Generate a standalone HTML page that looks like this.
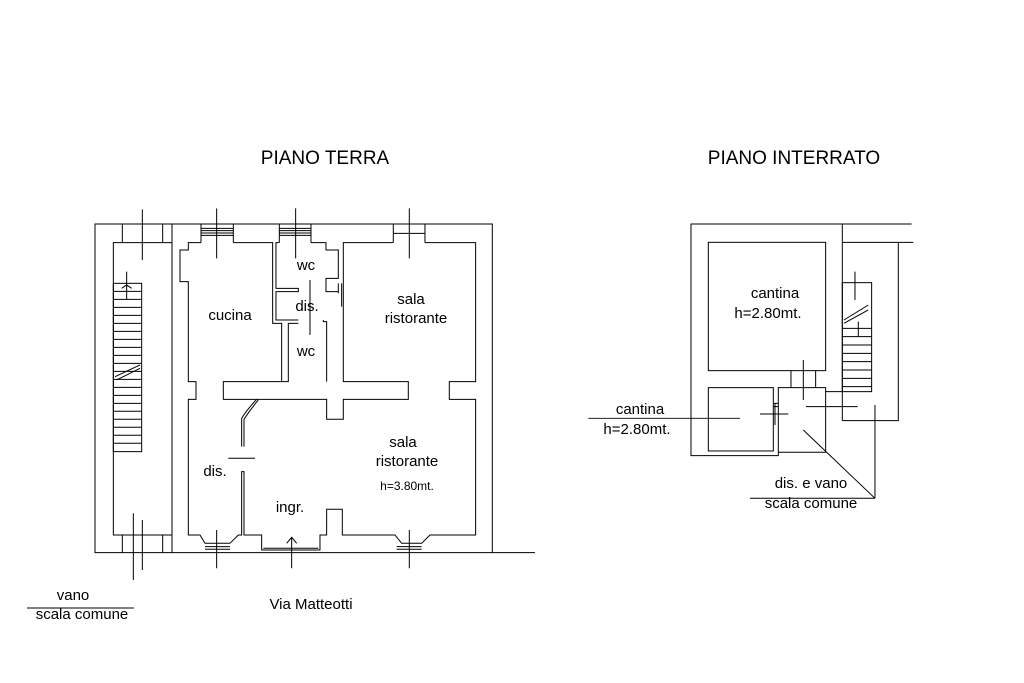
<!DOCTYPE html>
<html><head><meta charset="utf-8"><style>
html,body{margin:0;padding:0;background:#fff;width:1024px;height:683px;overflow:hidden}
text{font-family:"Liberation Sans",Arial,sans-serif;fill:#000}
</style></head><body>
<svg width="1024" height="683" viewBox="0 0 1024 683" xmlns="http://www.w3.org/2000/svg">
<text x="325" y="164" font-size="19" text-anchor="middle">PIANO TERRA</text>
<text x="794" y="164" font-size="19" text-anchor="middle">PIANO INTERRATO</text>

<g transform="translate(90,200) scale(0.3333)" fill="none" stroke="#000" stroke-width="3">
<rect x="15" y="72" width="1192" height="986"/>
<line x1="1207" y1="1058" x2="1335" y2="1058"/>
<line x1="246" y1="72" x2="246" y2="1058"/>
<line x1="97" y1="72" x2="97" y2="128"/><line x1="218" y1="72" x2="218" y2="128"/>
<line x1="97" y1="1005" x2="97" y2="1058"/><line x1="218" y1="1005" x2="218" y2="1058"/>
<polyline points="246,128 70,128 70,1005 246,1005"/>
<rect x="70" y="250" width="85" height="505"/>
<path d="M70,274H155M70,298H155M70,322H155M70,346H155M70,370H155M70,394H155M70,418H155M70,442H155M70,466H155M70,490H155M70,514H155M70,538H155M70,562H155M70,586H155M70,610H155M70,634H155M70,658H155M70,682H155M70,706H155M70,730H155"/>
<path d="M75,530L150,495M80,540L150,505M95,265L110,255L125,265M110,215V300"/>
<path d="M333,72V128M430,72V128M333,85H430M333,92H430M333,99H430M333,106H430"/>
<path d="M568,72V128M663,72V128M568,85H663M568,92H663M568,99H663M568,106H663"/>
<path d="M910,72V128M1005,72V128M910,100H1005"/>
<polyline points="333,128 295,128 295,150 270,150 270,245 295,245 295,545 318,545 318,598 295,598 295,1005 330,1005 345,1030 420,1030 445,1005 455,1005 455,815 462,815 462,1005 515,1005 515,1050 690,1050 690,1005 710,1005 710,928 757,928 757,1005 915,1005 935,1030 995,1030 1020,1005 1157,1005 1157,598 1078,598 1078,545 1157,545 1157,128 1005,128"/>
<polyline points="910,128 760,128 760,545 955,545 955,598 760,598 760,658 710,658 710,598 400,598 400,545 595,545 595,370 625,370"/>
<polyline points="430,128 548,128 548,370 575,370 575,545"/>
<polyline points="568,128 558,128 558,265 625,265 625,275 558,275 558,360 625,360"/>
<polyline points="663,128 708,128 708,150 745,150 745,235 708,235 708,275 745,275"/>
<polyline points="710,545 710,365 700,365 700,360"/>
<path d="M755,250V320M745,250V280M660,240V405"/>
<path d="M345,1040H420M345,1048H420M920,1040H995M920,1048H995M520,1045H685"/>
<path d="M455,740V655Q470,630 500,598M462,740V658Q480,630 505,600"/>
<line x1="415" y1="775" x2="495" y2="775"/>
<path d="M605,1012V1105M590,1030L605,1012L620,1030"/>
<path d="M157,28V180M380,25V175M617,25V175M958,25V175M130,940V1140M157,960V1110M380,990V1105M958,990V1105"/>
</g>
<text x="230" y="320" font-size="15" text-anchor="middle">cucina</text>
<text x="306" y="270" font-size="15" text-anchor="middle">wc</text>
<text x="307" y="311" font-size="15" text-anchor="middle">dis.</text>
<text x="306" y="356" font-size="15" text-anchor="middle">wc</text>
<text x="411" y="304" font-size="15" text-anchor="middle">sala</text>
<text x="416" y="323" font-size="15" text-anchor="middle">ristorante</text>
<text x="403" y="447" font-size="15" text-anchor="middle">sala</text>
<text x="407" y="466" font-size="15" text-anchor="middle">ristorante</text>
<text x="407" y="490" font-size="12" text-anchor="middle">h=3.80mt.</text>
<text x="215" y="476" font-size="15" text-anchor="middle">dis.</text>
<text x="290" y="512" font-size="15" text-anchor="middle">ingr.</text>
<text x="311" y="609" font-size="15" text-anchor="middle">Via Matteotti</text>
<text x="73" y="600" font-size="15" text-anchor="middle">vano</text>
<text x="82" y="619" font-size="15" text-anchor="middle">scala comune</text>
<line x1="27" y1="608" x2="134" y2="608" stroke="#000"/>

<g transform="translate(580,210) scale(0.3333)" fill="none" stroke="#000" stroke-width="3">
<polyline points="995,42 333,42 333,737 595,737 595,727 737,727 737,545 787,545"/>
<line x1="787" y1="42" x2="787" y2="632"/>
<polyline points="1000,97 955,97 955,632 787,632"/>
<line x1="787" y1="97" x2="955" y2="97"/>
<rect x="385" y="97" width="352" height="385"/>
<rect x="385" y="533" width="195" height="190"/>
<polyline points="595,727 595,533 737,533 737,545"/>
<path d="M633,482V533M707,482V533M580,580H595M580,590H595"/>
<rect x="787" y="218" width="88" height="327"/>
<path d="M787,355H875M787,380H875M787,405H875M787,430H875M787,455H875M787,480H875M787,505H875M787,530H875M792,330L865,285M792,340L865,300M825,185V270M835,335V380"/>
<path d="M25,625H480M540,612H625M585,580V645M670,450V570M678,590H833M885,585V865M670,660L885,865M510,865H885"/>
</g>
<text x="775" y="298" font-size="15" text-anchor="middle">cantina</text>
<text x="768" y="318" font-size="15" text-anchor="middle">h=2.80mt.</text>
<text x="640" y="414" font-size="15" text-anchor="middle">cantina</text>
<text x="637" y="434" font-size="15" text-anchor="middle">h=2.80mt.</text>
<text x="811" y="488" font-size="15" text-anchor="middle">dis. e vano</text>
<text x="811" y="508" font-size="15" text-anchor="middle">scala comune</text>
</svg>
</body></html>
